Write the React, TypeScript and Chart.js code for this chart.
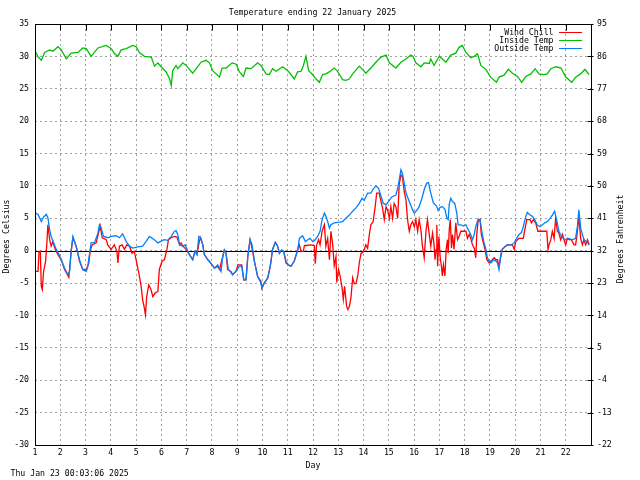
import { useEffect, useRef } from "react";
import { Chart, registerables } from "chart.js";

Chart.register(...registerables);

const TITLE = "Temperature ending 22 January 2025";
const STAMP = "Thu Jan 23 00:03:06 2025";
const X_LABEL = "Day";
const Y_LABEL = "Degrees Celsius";
const Y2_LABEL = "Degrees Fahrenheit";

const dayTicks = [1, 2, 3, 4, 5, 6, 7, 8, 9, 10, 11, 12, 13, 14, 15, 16, 17, 18, 19, 20, 21, 22];
const celsiusTicks = [-30, -25, -20, -15, -10, -5, 0, 5, 10, 15, 20, 25, 30, 35];
const fahrenheitTicks = [-22, -13, -4, 5, 14, 23, 32, 41, 50, 59, 68, 77, 86, 95];

const seriesNames = ["Wind Chill", "Inside Temp", "Outside Temp"];
const seriesColors = ["#ff0000", "#00c000", "#0080ff"];

const insideDays = [
  1.02, 1.11, 1.25, 1.38, 1.58, 1.71, 1.91, 2.04, 2.24, 2.43, 2.7, 2.89, 3.03, 3.22, 3.49, 3.82, 4.02, 4.15, 4.28, 4.41,
  4.61, 4.87, 5.0, 5.13, 5.33, 5.6, 5.73, 5.86, 5.99, 6.19, 6.32, 6.39, 6.45, 6.58, 6.65, 6.85, 6.98, 7.24, 7.38, 7.57,
  7.77, 7.9, 8.03, 8.3, 8.4, 8.56, 8.8, 8.96, 9.09, 9.25, 9.35, 9.55, 9.81, 9.94, 10.14, 10.27, 10.4, 10.54, 10.8, 11.0,
  11.13, 11.26, 11.39, 11.53, 11.62, 11.72, 11.83, 11.98, 12.12, 12.25, 12.38, 12.51, 12.64, 12.84, 12.97, 13.17, 13.3,
  13.43, 13.57, 13.83, 13.96, 14.09, 14.29, 14.49, 14.69, 14.89, 15.02, 15.28, 15.48, 15.68, 15.87, 15.96, 16.07, 16.27,
  16.4, 16.6, 16.66, 16.79, 16.99, 17.12, 17.26, 17.45, 17.65, 17.78, 17.91, 18.05, 18.24, 18.38, 18.51, 18.64, 18.84,
  19.03, 19.26, 19.36, 19.56, 19.73, 19.89, 20.09, 20.26, 20.42, 20.62, 20.79, 20.94, 21.14, 21.27, 21.41, 21.61, 21.81,
  22.0, 22.24, 22.39, 22.59, 22.76, 22.92,
];
const insideTemps = [
  30.7, 30.0, 29.4, 30.6, 31.0, 30.8, 31.5, 31.0, 29.6, 30.5, 30.6, 31.3, 31.2, 30.0, 31.3, 31.7, 31.2, 30.4, 30.0, 31.0,
  31.2, 31.7, 31.5, 30.6, 30.0, 29.9, 28.5, 29.0, 28.4, 27.6, 26.6, 25.5, 27.8, 28.6, 28.1, 29.0, 28.6, 27.4, 28.1, 29.1,
  29.4, 29.0, 27.8, 26.8, 28.2, 28.2, 29.0, 28.8, 27.6, 26.9, 28.2, 28.1, 29.0, 28.6, 27.3, 27.2, 28.1, 27.7, 28.4, 27.8,
  27.2, 26.5, 27.6, 27.7, 28.6, 30.0, 27.8, 27.2, 26.5, 26.0, 27.2, 27.3, 27.6, 28.2, 27.7, 26.4, 26.3,
  26.5, 27.3, 28.5, 28.0, 27.4, 28.2, 29.1, 29.9, 30.2, 29.0, 28.2, 29.1, 29.6, 30.2, 30.0, 29.0, 28.4,
  29.0, 28.9, 29.6, 28.6, 30.0, 29.6, 29.1, 30.2, 30.5, 31.4, 31.7, 30.6, 29.8, 30.0, 30.4, 28.6, 28.0,
  26.8, 26.0, 26.8, 27.1, 28.0, 27.4, 26.9, 26.0, 26.9, 27.3, 28.1, 27.3, 27.2, 27.3, 28.1, 28.4, 28.2,
  26.8, 26.0, 26.8, 27.3, 28.0, 27.2,
];

const outsideDays = [
  1.0, 1.12, 1.25, 1.34, 1.45, 1.51, 1.58, 1.64, 1.74, 1.84, 1.95, 2.04, 2.17, 2.3, 2.37, 2.43, 2.5, 2.57, 2.66, 2.76,
  2.89, 3.03, 3.09, 3.16, 3.22, 3.36, 3.49, 3.55, 3.62, 3.71, 3.88, 4.01, 4.21, 4.34, 4.47, 4.61, 4.74, 4.87, 5.07, 5.26,
  5.39, 5.53, 5.72, 5.86, 6.05,
  6.12, 6.25, 6.39, 6.52, 6.58, 6.65, 6.72, 6.85, 6.94, 7.02, 7.11, 7.24, 7.33, 7.41, 7.48, 7.55, 7.64, 7.7, 7.84, 7.97,
  8.1, 8.23, 8.36, 8.43, 8.49, 8.56, 8.65, 8.73, 8.82, 8.95, 9.09, 9.18, 9.26, 9.35, 9.42, 9.51, 9.59, 9.68, 9.81, 9.94,
  9.98, 10.07, 10.21, 10.31, 10.4, 10.51, 10.6, 10.67, 10.76, 10.84, 10.93, 11.02, 11.13, 11.26, 11.4,
  11.46, 11.59, 11.7, 11.79, 11.88, 11.99, 12.09, 12.18, 12.28, 12.36, 12.45, 12.51, 12.58, 12.65, 12.71, 12.84, 13.04,
  13.17, 13.3, 13.44, 13.57, 13.7, 13.83, 13.94, 14.03, 14.16, 14.29, 14.38, 14.49, 14.6, 14.69, 14.78, 14.89, 14.99,
  15.12, 15.28, 15.35, 15.41, 15.48, 15.54, 15.61, 15.68, 15.81, 15.94, 16.01, 16.1, 16.2, 16.31, 16.4, 16.49, 16.57,
  16.66, 16.76,
  16.9, 16.95, 17.03, 17.12, 17.22, 17.3, 17.35, 17.39, 17.45, 17.52, 17.61, 17.69, 17.74, 17.85, 17.95, 18.05, 18.11,
  18.24, 18.31, 18.38, 18.44, 18.53, 18.61, 18.7, 18.77, 18.84, 18.9, 18.97, 19.04, 19.14, 19.24, 19.3, 19.36, 19.43,
  19.49, 19.59, 19.69, 19.85, 19.96, 20.06, 20.15, 20.25, 20.32, 20.42, 20.48, 20.59, 20.68, 20.77, 20.87, 20.98, 21.08,
  21.17, 21.28, 21.38, 21.47, 21.56, 21.64, 21.73, 21.83, 21.93, 22.04, 22.13, 22.22, 22.33, 22.39, 22.46, 22.52, 22.59,
  22.66, 22.72, 22.83, 22.93,
];
const outsideTemps = [
  5.9, 5.6, 4.5, 5.2, 5.6, 5.1, 3.2, 2.2, 1.2, 0.2, -0.6, -1.4, -2.7, -3.7, -3.2, -0.1, 2.2, 1.4, 0.2, -1.4,
  -2.9, -3.2, -2.4, -0.4, 1.2, 1.3, 2.7, 4.0, 3.5, 2.2, 2.0, 2.2, 2.3, 2.0, 2.6, 1.4, 0.7, 0.4, 0.6, 0.7,
  1.4, 2.2, 1.7, 1.2, 1.6,
  1.7, 1.6, 2.2, 3.0, 3.1, 2.5, 0.9, 0.7, 0.9, 0.2, -0.6, -1.4, -0.1, -0.6, 2.2, 2.0, 0.9, -0.6, -1.4, -2.0,
  -2.7, -2.2, -3.2, -0.9, 0.1, -0.4, -2.9, -3.2, -3.7, -3.2, -2.4, -2.4, -4.5, -4.5, -0.9, 1.7, 0.9, -1.6, -4.0, -5.0,
  -5.8, -5.0, -4.2, -2.4, 0.2, 1.3, 0.7, -0.4, 0.1, -0.1, -1.6, -2.2, -2.4, -1.6, 0.2,
  1.9, 2.3, 1.4, 1.7, 1.9, 1.4, 1.7, 2.2, 3.0, 4.8, 5.8, 5.3, 4.5, 3.5, 4.0, 4.3, 4.4,
  4.5, 5.0, 5.5, 6.1, 6.6, 7.3, 8.1, 7.8, 8.9, 8.9, 9.5, 10.0, 9.6, 8.4, 7.3, 7.1, 7.6,
  8.3, 8.6, 9.6, 10.9, 12.5, 11.9, 10.4, 8.9, 7.6, 6.3, 5.8, 6.2, 6.8, 8.1, 9.4, 10.4, 10.5,
  8.9, 7.4,
  6.8, 6.2, 6.7, 6.8, 6.4, 5.0, 4.8, 7.1, 8.1, 7.6, 7.3, 5.8, 4.0, 4.0, 3.8, 4.0, 3.5,
  2.5, 1.7, 2.5, 3.7, 4.9, 4.8, 2.5, 1.2, 0.2, -1.1, -1.6, -1.9, -1.4, -1.6, -1.9, -2.9, -0.6,
  0.2, 0.6, 0.9, 0.9, 1.2, 1.9, 2.5, 2.8, 3.7, 5.3, 5.9, 5.5, 5.3, 4.8, 4.0, 3.7, 4.0,
  4.3, 4.5, 5.0, 5.5, 6.1, 4.8, 3.0, 2.2, 1.8, 1.7, 1.9, 1.7, 1.8, 1.9, 3.7, 6.3, 3.5,
  2.5, 1.7, 1.4, 0.9,
];

const chillDays = [
  1.0, 1.12, 1.16, 1.21, 1.25, 1.29, 1.34, 1.42, 1.47, 1.51, 1.58, 1.64, 1.71, 1.78, 1.84, 1.95, 2.04, 2.17, 2.34, 2.43,
  2.5, 2.63, 2.76, 2.89, 3.03, 3.13, 3.18, 3.26, 3.42, 3.58, 3.66, 3.82, 3.88, 4.01, 4.14, 4.24, 4.28, 4.34, 4.45, 4.54,
  4.63, 4.74, 4.84, 4.93, 5.0, 5.11, 5.2, 5.26, 5.33, 5.37, 5.42, 5.5, 5.59, 5.66, 5.76, 5.86, 5.92, 6.03,
  6.12, 6.22, 6.28, 6.39, 6.52, 6.62, 6.72, 6.78, 6.85, 6.98, 7.11, 7.24, 7.33, 7.41, 7.5, 7.55, 7.64, 7.7, 7.84, 7.97,
  8.1, 8.23, 8.3, 8.43, 8.49, 8.56, 8.62, 8.75, 8.82, 8.95, 9.03, 9.18, 9.26, 9.35, 9.42, 9.51, 9.57, 9.68, 9.81, 9.94,
  9.98, 10.07, 10.21, 10.31, 10.4, 10.51, 10.6, 10.67, 10.76, 10.84, 10.93, 11.02, 11.13, 11.26, 11.4,
  11.46, 11.53, 11.62, 11.66, 11.75, 11.88, 12.05, 12.09, 12.14, 12.22, 12.28, 12.36, 12.45, 12.51, 12.58, 12.65, 12.71,
  12.78, 12.84, 12.91, 12.94, 13.01, 13.07, 13.15, 13.2, 13.25, 13.33, 13.38, 13.44, 13.5, 13.57, 13.63, 13.7, 13.77,
  13.83, 13.9, 13.96, 14.03, 14.09, 14.16, 14.23, 14.29, 14.38, 14.46, 14.52, 14.62, 14.69, 14.75, 14.82, 14.89, 14.95,
  15.02, 15.08, 15.15, 15.21, 15.28, 15.35, 15.41, 15.48, 15.54, 15.61, 15.68, 15.74, 15.81, 15.87, 15.94, 16.01, 16.07,
  16.14, 16.2, 16.27, 16.33, 16.4, 16.47, 16.53, 16.6, 16.66, 16.73,
  16.79, 16.83, 16.87, 16.9, 16.93, 16.98, 17.03, 17.08, 17.12, 17.16, 17.22, 17.27, 17.32, 17.35, 17.39, 17.43, 17.48,
  17.52, 17.58, 17.65, 17.72, 17.78, 17.85, 17.91, 17.98, 18.05, 18.11, 18.18, 18.24, 18.31, 18.38, 18.44, 18.48, 18.53,
  18.61, 18.66, 18.74, 18.8, 18.88, 18.97, 19.04, 19.1, 19.17, 19.24, 19.3, 19.36, 19.43, 19.49, 19.59, 19.69, 19.89,
  19.96, 20.02, 20.15, 20.32, 20.38, 20.46, 20.59, 20.64, 20.72, 20.81, 20.9, 20.98, 21.14, 21.25, 21.3, 21.34, 21.41,
  21.47, 21.54, 21.6, 21.67, 21.73, 21.8, 21.87, 21.93, 22.0, 22.06, 22.13, 22.22, 22.33, 22.39, 22.43, 22.48, 22.52,
  22.59, 22.66, 22.72, 22.79, 22.86, 22.93,
];
const chillTemps = [
  -3.2, -3.2, -0.1, -0.1, -5.5, -6.0, -3.2, -1.6, 1.2, 4.0, 1.7, 0.7, 1.4, 0.4, -0.1, -0.9, -1.4, -2.9, -4.1, -0.1,
  2.0, 0.7, -1.6, -2.9, -2.9, -1.9, -0.1, 0.9, 1.2, 3.8, 2.0, 1.7, 0.9, 0.2, 0.9, -0.1, -1.9, 0.7, 0.9, 0.2,
  0.9, 0.7, -0.4, -0.1, -1.4, -3.5, -5.5, -7.6, -8.9, -9.9, -7.1, -5.3, -6.0, -7.1, -6.5, -6.3, -2.9, -1.6,
  -1.4, 0.2, 1.7, 2.0, 2.2, 2.1, 0.9, 1.2, 0.7, 0.2, -0.6, -1.4, -0.1, -0.6, 1.4, 2.0, 0.9, -0.6, -1.4, -2.0,
  -2.7, -2.4, -2.9, -0.9, 0.1, -0.4, -2.9, -3.2, -3.7, -3.2, -2.2, -2.2, -4.5, -4.5, -0.9, 1.7, 0.7, -1.6, -4.0, -4.7,
  -5.8, -5.0, -4.2, -2.4, 0.2, 1.3, 0.7, -0.4, 0.1, -0.1, -1.9, -2.2, -2.4, -1.6, 0.2,
  0.9, -0.1, -0.1, 0.8, 0.8, 0.9, 0.8, -2.0, 0.8, 1.7, 0.9, 3.0, 4.0, 0.7, 1.9, -1.4, 3.0,
  0.9, -2.3, -0.9, -4.9, -2.9, -3.9, -5.7, -7.5, -5.5, -8.6, -9.1, -8.6, -7.3, -4.2, -5.1, -5.1, -3.9,
  -1.9, -0.4, -0.3, 0.2, 0.9, 0.4, 2.5, 4.0, 4.5, 6.8, 8.9, 8.9, 7.6, 6.6, 4.8, 6.8, 6.3,
  5.0, 6.8, 5.0, 7.3, 6.8, 5.0, 10.2, 11.7, 11.4, 9.1, 7.8, 4.8, 3.0, 4.0, 4.5, 3.7, 4.8,
  3.0, 4.8, 3.2, 0.7, -1.1, 3.0, 4.8, 2.5, 0.7, 2.7,
  0.9, -1.4, 0.2, 4.0, -2.4, 2.2, -0.9, -2.4, -3.9, -2.2, -3.9, 0.2, 1.7, -0.4, 3.2, 4.8, 0.4,
  2.5, 0.2, 4.3, 1.7, 2.2, 3.0, 3.0, 3.0, 3.0, 1.9, 2.5, 1.9, 0.9, 0.4, -1.1, 2.5, 4.5,
  4.8, 2.5, 1.2, 0.3, -1.4, -1.9, -1.6, -1.4, -1.1, -1.4, -1.4, -2.4, -0.9, 0.2, 0.6, 0.9, 0.9,
  0.2, 1.4, 1.9, 1.9, 3.2, 4.8, 4.8, 4.3, 4.8, 4.3, 3.0, 3.0, 3.0, 3.0, 0.2, 0.9, 1.7,
  3.0, 1.9, 5.0, 3.0, 2.7, 1.7, 2.5, 1.7, 0.9, 1.9, 1.7, 1.7, 0.9, 0.9, 1.9, 3.7, 5.3,
  1.9, 0.9, 1.7, 0.9, 1.7, 0.9,
];

const FONT = "'DejaVu Sans Mono', monospace";
const FONT_SIZE = 8.2;
const LINE_W = 1.3;

function pts(days: number[], temps: number[]) {
  return days.map((d, i) => ({ x: d, y: temps[i] }));
}

const decorPlugin = {
  id: "decor",
  beforeDatasetsDraw(chart: any) {
    const { ctx, chartArea: a, scales } = chart;
    const y0 = Math.round(scales.y.getPixelForValue(0));
    ctx.save();
    ctx.fillStyle = "#000";
    ctx.fillRect(a.left, y0, a.right - a.left, 1);
    ctx.restore();
  },
  afterDraw(chart: any) {
    const { ctx, chartArea: a, scales } = chart;
    ctx.save();
    ctx.strokeStyle = "#000";
    ctx.lineWidth = 1;
    const L = Math.round(a.left) + 0.5;
    const R = Math.round(a.right) + 0.5;
    const T = Math.round(a.top) + 0.5;
    const B = Math.round(a.bottom) + 0.5;
    ctx.strokeRect(L, T, R - L, B - T);
    ctx.beginPath();
    dayTicks.forEach((d) => {
      const x = Math.round(scales.x.getPixelForValue(d)) + 0.5;
      ctx.moveTo(x, T);
      ctx.lineTo(x, T + 6);
    });
    celsiusTicks.forEach((c) => {
      const y = Math.round(scales.y.getPixelForValue(c)) + 0.5;
      ctx.moveTo(R - 4, y);
      ctx.lineTo(R + 2, y);
    });
    ctx.stroke();

    ctx.fillStyle = "#000";
    ctx.font = `${FONT_SIZE}px ${FONT}`;
    ctx.textBaseline = "middle";
    ctx.textAlign = "center";
    ctx.fillText(TITLE, 312.5, 13);
    ctx.fillText(X_LABEL, (a.left + a.right) / 2, 466);
    ctx.textAlign = "left";
    ctx.fillText(STAMP, 10.5, 474);

    ctx.save();
    ctx.translate(7, 236.5);
    ctx.rotate(-Math.PI / 2);
    ctx.textAlign = "center";
    ctx.fillText(Y_LABEL, 0, 0);
    ctx.restore();
    ctx.save();
    ctx.translate(621, 239);
    ctx.rotate(-Math.PI / 2);
    ctx.textAlign = "center";
    ctx.fillText(Y2_LABEL, 0, 0);
    ctx.restore();

    const rowY = [32, 40, 48];
    seriesNames.forEach((name, i) => {
      ctx.textAlign = "right";
      ctx.fillStyle = "#000";
      ctx.fillText(name, 553.5, rowY[i] + 0.5);
      ctx.fillStyle = seriesColors[i];
      ctx.fillRect(559, rowY[i], 23, 1);
    });
    ctx.restore();
  },
};

export default function App() {
  const ref = useRef<HTMLCanvasElement | null>(null);
  useEffect(() => {
    if (!ref.current) return;
    const tickFont = { family: FONT, size: FONT_SIZE };
    const grid = { color: "#a0a0a0", drawTicks: false, lineWidth: 1 };
    const border = { display: false, dash: [2, 3] };
    const chart = new Chart(ref.current, {
      type: "line",
      data: {
        datasets: [
          {
            label: seriesNames[2],
            data: pts(outsideDays, outsideTemps),
            borderColor: seriesColors[2],
            borderWidth: LINE_W,
            pointRadius: 0,
            tension: 0,
            order: 0,
          },
          {
            label: seriesNames[1],
            data: pts(insideDays, insideTemps),
            borderColor: seriesColors[1],
            borderWidth: LINE_W,
            pointRadius: 0,
            tension: 0,
            order: 1,
          },
          {
            label: seriesNames[0],
            data: pts(chillDays, chillTemps),
            borderColor: seriesColors[0],
            borderWidth: LINE_W,
            pointRadius: 0,
            tension: 0,
            order: 2,
          },
        ],
      },
      options: {
        responsive: false,
        animation: false,
        parsing: false as any,
        layout: { padding: { top: 24, left: 0, right: 0, bottom: 0 } },
        plugins: { legend: { display: false }, tooltip: { enabled: false }, title: { display: false } },
        scales: {
          x: {
            type: "linear",
            min: 1,
            max: 23,
            position: "bottom",
            grid,
            border,
            afterFit: (s: any) => {
              s.height = 35;
            },
            afterBuildTicks: (s: any) => {
              s.ticks = [...dayTicks, 23].map((v) => ({ value: v }));
            },
            ticks: {
              autoSkip: false,
              maxRotation: 0,
              padding: 3,
              color: "#000",
              font: tickFont,
              callback: (v: any) => (dayTicks.includes(v) ? String(v) : ""),
            },
          },
          y: {
            type: "linear",
            min: -30,
            max: 35,
            position: "left",
            grid,
            border,
            afterFit: (s: any) => {
              s.width = 35;
            },
            afterBuildTicks: (s: any) => {
              s.ticks = celsiusTicks.map((v) => ({ value: v }));
            },
            ticks: { padding: 6, color: "#000", font: tickFont, callback: (v: any) => String(v) },
          },
          y2: {
            type: "linear",
            min: -30,
            max: 35,
            position: "right",
            grid: { display: false, drawTicks: false },
            border: { display: false },
            afterFit: (s: any) => {
              s.width = 49;
            },
            afterBuildTicks: (s: any) => {
              s.ticks = celsiusTicks.map((v) => ({ value: v }));
            },
            ticks: {
              padding: 6,
              color: "#000",
              font: tickFont,
              callback: (v: any) => String(fahrenheitTicks[celsiusTicks.indexOf(v)]),
            },
          },
        },
      } as any,
      plugins: [decorPlugin],
    });
    return () => chart.destroy();
  }, []);
  return (
    <div style={{ position: "absolute", left: 0, top: 0, width: 640, height: 480, background: "#fff" }}>
      <canvas ref={ref} width={640} height={480} style={{ display: "block" }} />
    </div>
  );
}
